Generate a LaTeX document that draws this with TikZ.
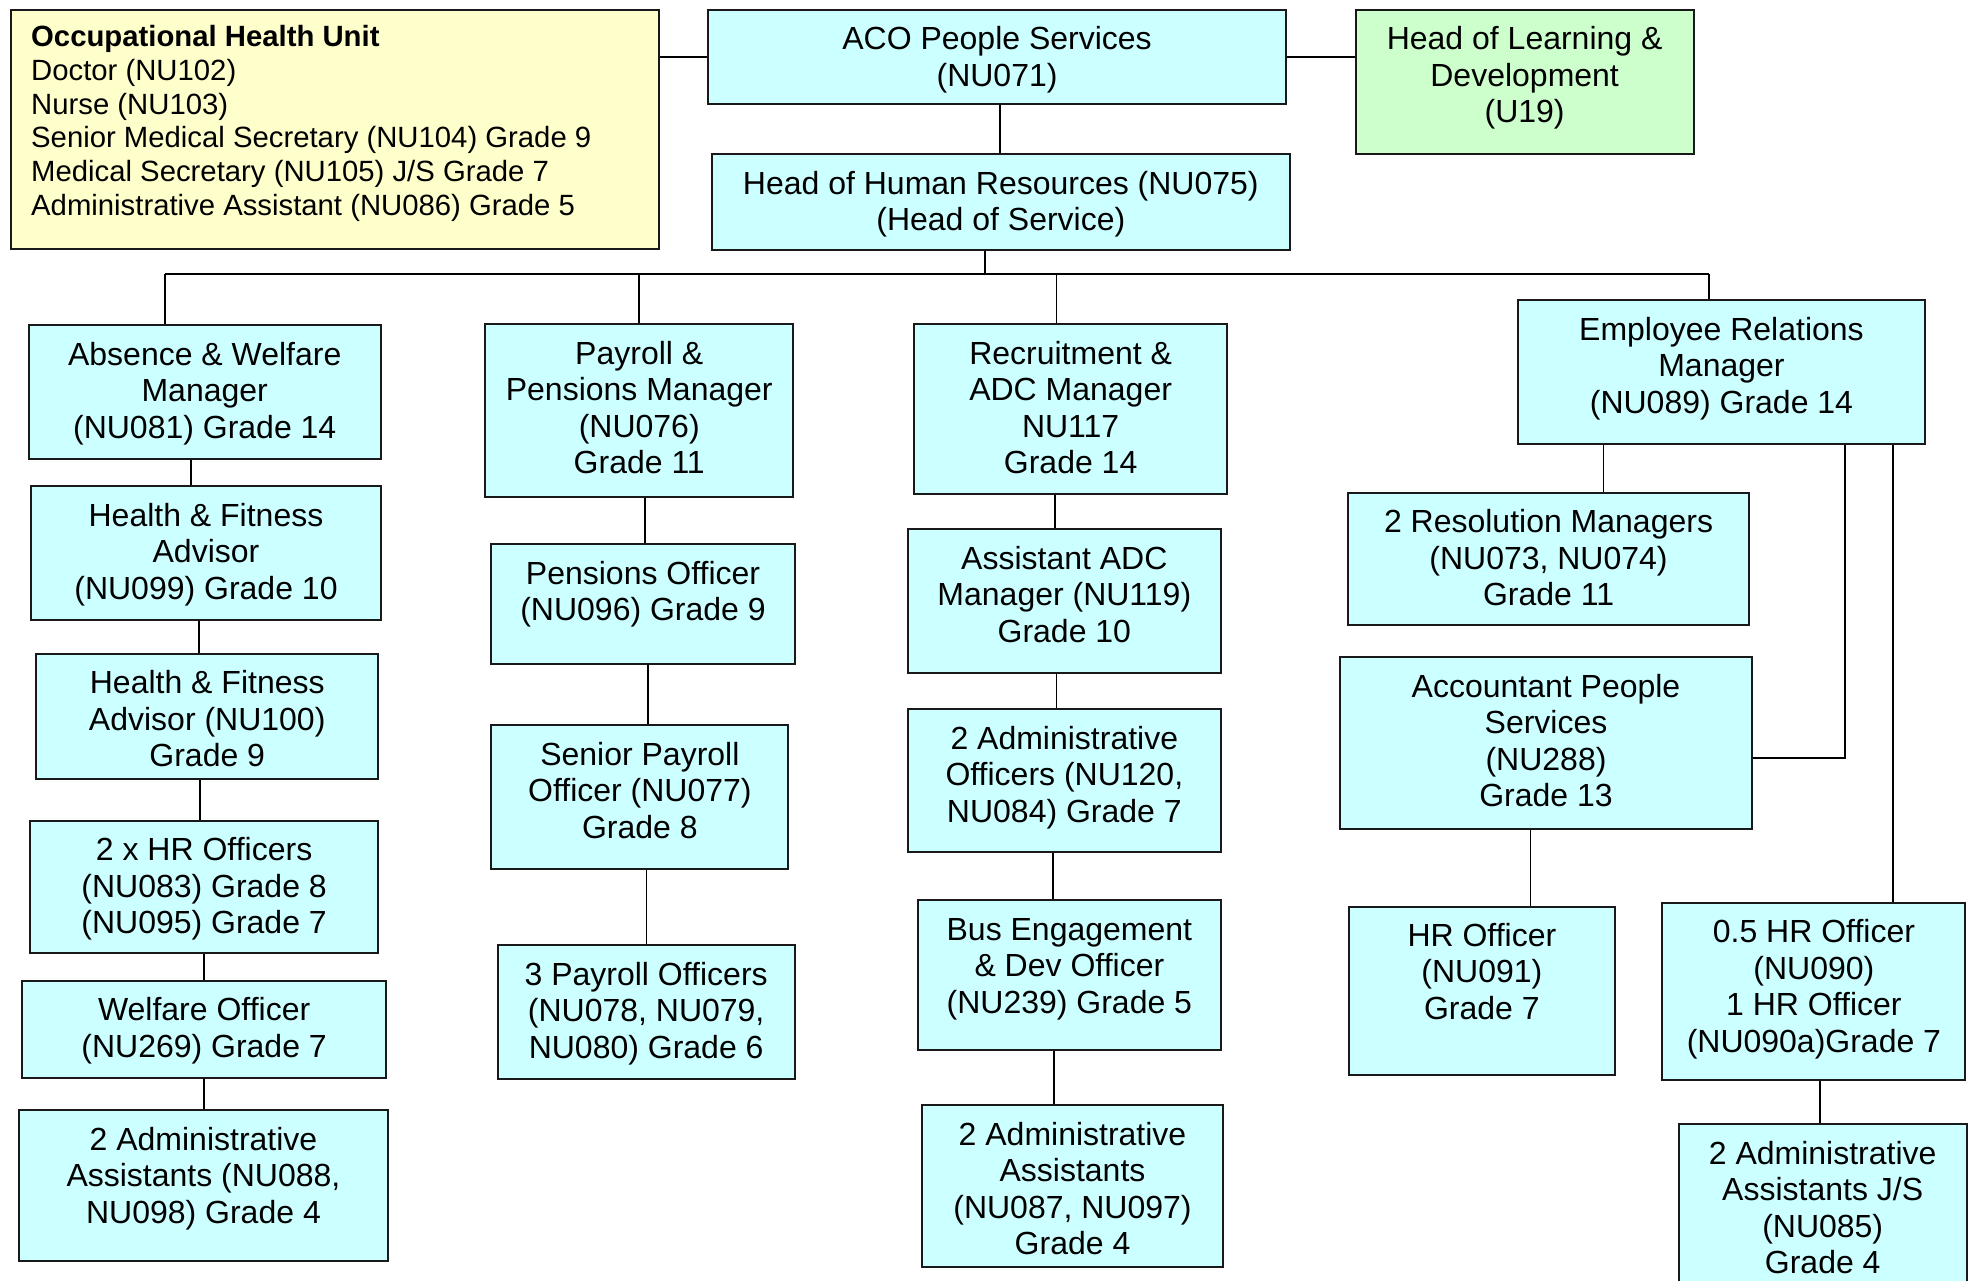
\documentclass[tikz,border=0pt]{standalone}
\usepackage{fontspec}
\setmainfont{Liberation Sans}
\usepackage{tikz}
\usetikzlibrary{positioning}
\definecolor{postfill}{RGB}{204,255,255}
\definecolor{unitfill}{RGB}{255,255,204}
\definecolor{devfill}{RGB}{204,255,204}
\definecolor{boxline}{RGB}{25,25,25}
\newlength{\pxu}
\setlength{\pxu}{0.62885pt}
% text of one post: width, height (in picture units), lines
\newcommand{\postbox}[3]{\parbox[c][#2\pxu][t]{#1\pxu}{\centering\rule{0pt}{20pt}#3}}

\begin{document}
\begin{tikzpicture}[x=0.62885pt, y=-0.62885pt,
    post/.style={draw=boxline, fill=postfill, line width=1pt, inner sep=0pt,
                 anchor=north west, font=\fontsize{16}{18.24}\selectfont},
    link/.style={draw=black, line width=0.9pt}]
    \useasboundingbox[fill=white] (0,0) rectangle (1568,1018);

    % Top row
    \node[post, fill=unitfill, font=\fontsize{14.65}{16.85}\selectfont] (ohu) at (8,7) {
        \parbox[c][190\pxu][t]{515\pxu}{\raggedright\leftskip=16\pxu
        \rule{0pt}{18.5pt}\textbf{Occupational Health Unit}\\
        Doctor (NU102)\\
        Nurse (NU103)\\
        Senior Medical Secretary (NU104) Grade 9\\
        Medical Secretary (NU105) J/S Grade 7\\
        Administrative Assistant (NU086) Grade 5}
    };
    \node[post] (aco) at (562,7) {\postbox{460}{75}{ACO People Services\\(NU071)}};
    \node[post, fill=devfill] (lnd) at (1077,7) {\postbox{269}{115}{Head of Learning \&\\Development\\(U19)}};
    \node[post] (hhr) at (565,122) {\postbox{460}{76}{Head of Human Resources (NU075)\\(Head of Service)}};

    % Absence & welfare
    \node[post] (absence) at (22,258) {\postbox{280}{106}{Absence \& Welfare\\Manager\\(NU081) Grade 14}};
    \node[post] (hfa) at (24,386) {\postbox{278}{106}{Health \& Fitness\\Advisor\\(NU099) Grade 10}};
    \node[post] (hfb) at (28,519) {\postbox{272}{100}{Health \& Fitness\\Advisor (NU100)\\Grade 9}};
    \node[post] (hrofficers) at (23,652) {\postbox{277}{105}{2 x HR Officers\\(NU083) Grade 8\\(NU095) Grade 7}};
    \node[post] (welfare) at (17,779) {\postbox{289}{77}{Welfare Officer\\(NU269) Grade 7}};
    \node[post] (adminA) at (14,882) {\postbox{294}{120}{2 Administrative\\Assistants (NU088,\\NU098) Grade 4}};

    % Payroll & pensions
    \node[post] (payroll) at (385,257) {\postbox{245}{137}{Payroll \&\\Pensions Manager\\(NU076)\\Grade 11}};
    \node[post] (pensions) at (390,432) {\postbox{241}{95}{Pensions Officer\\(NU096) Grade 9}};
    \node[post] (srpayroll) at (390,576) {\postbox{236}{114}{Senior Payroll\\Officer (NU077)\\Grade 8}};
    \node[post] (payofficers) at (395,751) {\postbox{236}{106}{3 Payroll Officers\\(NU078, NU079,\\NU080) Grade 6}};

    % Recruitment & ADC
    \node[post] (recruit) at (726,257) {\postbox{249}{135}{Recruitment \&\\ADC Manager\\NU117\\Grade 14}};
    \node[post] (asstadc) at (721,420) {\postbox{249}{114}{Assistant ADC\\Manager (NU119)\\Grade 10}};
    \node[post] (adminoff) at (721,563) {\postbox{249}{114}{2 Administrative\\Officers (NU120,\\NU084) Grade 7}};
    \node[post] (busdev) at (729,715) {\postbox{241}{119}{Bus Engagement\\\& Dev Officer\\(NU239) Grade 5}};
    \node[post] (adminB) at (732,878) {\postbox{240}{129}{2 Administrative\\Assistants\\(NU087, NU097)\\Grade 4}};

    % Employee relations
    \node[post] (er) at (1206,238) {\postbox{324}{114}{Employee Relations\\Manager\\(NU089) Grade 14}};
    \node[post] (resolution) at (1071,391) {\postbox{319}{105}{2 Resolution Managers\\(NU073, NU074)\\Grade 11}};
    \node[post] (accountant) at (1065,522) {\postbox{327}{136}{Accountant People\\Services\\(NU288)\\Grade 13}};
    \node[post] (hrofficer) at (1072,720) {\postbox{211}{134}{HR Officer\\(NU091)\\Grade 7}};
    \node[post] (halfhr) at (1321,717) {\postbox{241}{141}{0.5 HR Officer\\(NU090)\\1 HR Officer\\(NU090a)Grade 7}};
    \node[post] (adminC) at (1334,893) {\postbox{229}{150}{2 Administrative\\Assistants J/S\\(NU085)\\Grade 4}};

    % Links
    \draw[link] (aco.west) -- (aco.west -| ohu.east);
    \draw[link] (aco.east) -- (aco.east -| lnd.west);
    \draw[link] (aco.south -| 795,0) -- (hhr.north -| 795,0);

    \coordinate (bus1) at (131,218);
    \coordinate (bus2) at (508,218);
    \coordinate (bus3) at (840,218);
    \coordinate (bus4) at (1359,218);
    \coordinate (bushr) at (783,218);
    \draw[link] (bus1) -- (bus4);
    \draw[link] (bushr) -- (bushr |- hhr.south);
    \foreach \b/\n in {bus1/absence, bus2/payroll, bus3/recruit, bus4/er}
        \draw[link] (\b) -- (\b |- \n.north);

    \foreach \x/\a/\b in {152/absence/hfa, 158/hfa/hfb, 159/hfb/hrofficers,
            162/hrofficers/welfare, 162/welfare/adminA,
            513/payroll/pensions, 515/pensions/srpayroll, 514/srpayroll/payofficers,
            839/recruit/asstadc, 840/asstadc/adminoff, 837/adminoff/busdev, 838/busdev/adminB,
            1275/er/resolution, 1217/accountant/hrofficer, 1447/halfhr/adminC}
        \draw[link] (\a.south -| \x,0) -- (\b.north -| \x,0);

    \draw[link] (er.south -| 1467,0) |- ([yshift=-7.5pt]accountant.east);
    \draw[link] (er.south -| 1505,0) -- (halfhr.north -| 1505,0);
\end{tikzpicture}
\end{document}
